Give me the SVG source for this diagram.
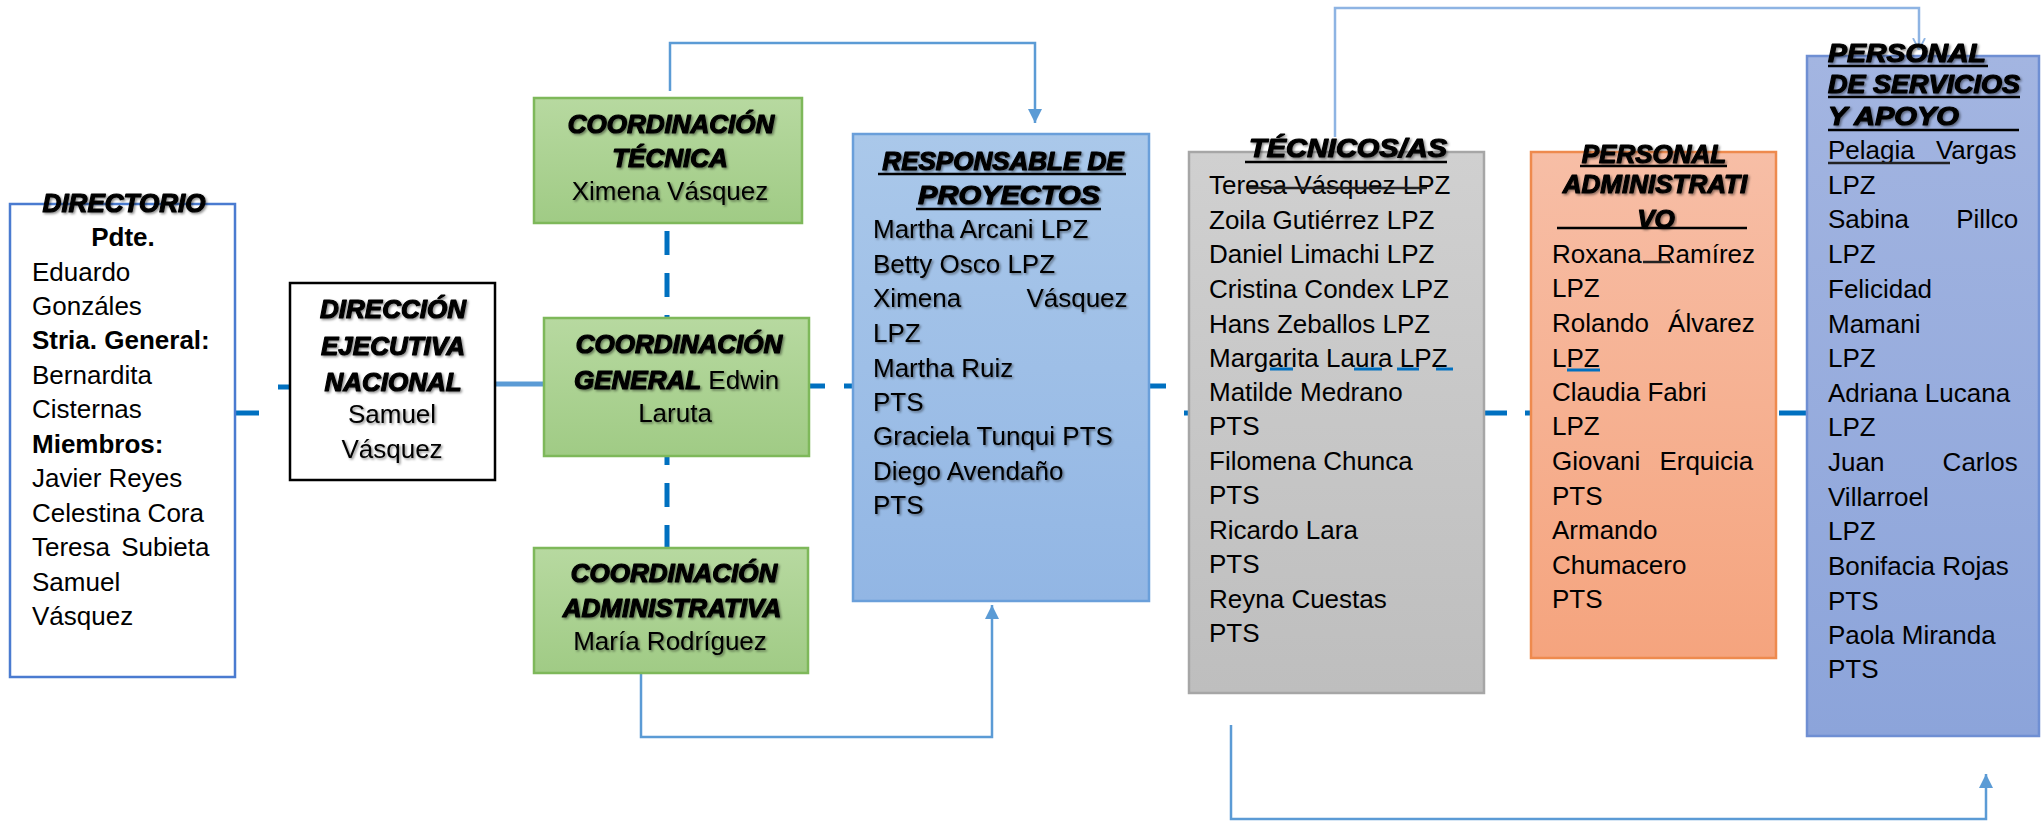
<svg xmlns="http://www.w3.org/2000/svg" width="2044" height="822" viewBox="0 0 2044 822">
<style>
text{font-family:"Liberation Sans",Arial,sans-serif;font-size:26px;fill:#000}
.t{font-weight:bold;font-style:italic;stroke:#000;stroke-width:1.2px;stroke-linejoin:round}
.b{font-weight:bold}
.c{text-anchor:middle}
.sh{filter:url(#ts)}
.ul{stroke:#000;stroke-width:2.5}
.dash{stroke:#0070C0;stroke-width:5;fill:none}
.solid{stroke:#5B9BD5;stroke-width:5;fill:none}
.conn{stroke:#5B9BD5;stroke-width:2.5;fill:none}
.conn2{stroke:#8EB4E3;stroke-width:2.5;fill:none}
.gram{stroke:#0070C0;stroke-width:3}
.mark{stroke:#222;stroke-width:2.5}
</style>
<defs>
<filter id="ts" x="-5%" y="-30%" width="110%" height="160%">
<feDropShadow dx="1.5" dy="1.5" stdDeviation="1" flood-color="#000" flood-opacity="0.45"/>
</filter>
<linearGradient id="gGreen" x1="0" y1="0" x2="0" y2="1"><stop offset="0" stop-color="#B7D9A0"/><stop offset="1" stop-color="#A0CB85"/></linearGradient>
<linearGradient id="gBlue" x1="0" y1="0" x2="0" y2="1"><stop offset="0" stop-color="#AAC8EA"/><stop offset="1" stop-color="#92B6E4"/></linearGradient>
<linearGradient id="gGray" x1="0" y1="0" x2="0" y2="1"><stop offset="0" stop-color="#D0D0D0"/><stop offset="1" stop-color="#BEBEBE"/></linearGradient>
<linearGradient id="gOrange" x1="0" y1="0" x2="0" y2="1"><stop offset="0" stop-color="#F7BEA6"/><stop offset="1" stop-color="#F5A47E"/></linearGradient>
<linearGradient id="gPeri" x1="0" y1="0" x2="0" y2="1"><stop offset="0" stop-color="#A3B5E1"/><stop offset="1" stop-color="#8CA4DA"/></linearGradient>
<marker id="arrF" viewBox="0 0 10 10" refX="10" refY="5" markerUnits="userSpaceOnUse" markerWidth="15" markerHeight="14" orient="auto">
<path d="M0,0 L10,5 L0,10 Z" fill="#5B9BD5"/>
</marker>
<marker id="arrO" viewBox="0 0 10 10" refX="10" refY="5" markerUnits="userSpaceOnUse" markerWidth="12" markerHeight="22" orient="auto">
<path d="M0,0 L10,5 L0,10" fill="none" stroke="#8EB4E3" stroke-width="1.5"/>
</marker>
</defs>

<g id="connectors">
<line class="dash" x1="667" y1="231" x2="667" y2="549" stroke-dasharray="24 18"/>
<line class="dash" x1="235" y1="413" x2="259" y2="413"/>
<line class="dash" x1="278" y1="387" x2="290" y2="387"/>
<line class="solid" x1="495" y1="384" x2="545" y2="384"/>
<line class="dash" x1="809" y1="386" x2="825" y2="386"/>
<line class="dash" x1="844" y1="386" x2="853" y2="386"/>
<line class="dash" x1="1149" y1="386" x2="1166" y2="386"/>
<line class="dash" x1="1184" y1="413" x2="1189" y2="413"/>
<line class="dash" x1="1484" y1="413" x2="1507" y2="413"/>
<line class="dash" x1="1525" y1="413" x2="1531" y2="413"/>
<line class="dash" x1="1779" y1="413" x2="1806" y2="413"/>
<path class="conn" d="M670,91 V43 H1035 V123" marker-end="url(#arrF)"/>
<path class="conn" d="M641,673 V737 H992 V605" marker-end="url(#arrF)"/>
<path class="conn2" d="M1335,137 V8 H1919 V50" marker-end="url(#arrO)"/>
<path class="conn" d="M1231,725 V819 H1986 V774" marker-end="url(#arrF)"/>
</g>

<g id="directorio">
<rect x="10" y="204" width="225" height="473" fill="#fff" stroke="#4A7BD0" stroke-width="2.5"/>
<text class="t c sh" x="124" y="212">DIRECTORIO</text>
<text class="b c" x="123" y="246">Pdte.</text>
<text x="32" y="280.5">Eduardo</text>
<text x="32" y="315">Gonzáles</text>
<text class="b" x="32" y="349">Stria. General:</text>
<text x="32" y="384">Bernardita</text>
<text x="32" y="418">Cisternas</text>
<text class="b" x="32" y="453">Miembros:</text>
<text x="32" y="487">Javier Reyes</text>
<text x="32" y="522">Celestina Cora</text>
<text x="32" y="556" word-spacing="4">Teresa Subieta</text>
<text x="32" y="590.5">Samuel</text>
<text x="32" y="625">Vásquez</text>
</g>

<g id="direccion">
<rect x="290" y="283" width="205" height="197" fill="#fff" stroke="#000" stroke-width="2.5"/>
<text class="t c sh" x="393" y="318">DIRECCIÓN</text>
<text class="t c sh" x="393" y="355">EJECUTIVA</text>
<text class="t c sh" x="393" y="391">NACIONAL</text>
<text class="c sh" x="392" y="423">Samuel</text>
<text class="c sh" x="392" y="458">Vásquez</text>
</g>

<g id="coord-tecnica">
<rect x="534" y="98" width="268" height="125" fill="url(#gGreen)" stroke="#7EB85A" stroke-width="2.5"/>
<text class="t c sh" x="671" y="133">COORDINACIÓN</text>
<text class="t c sh" x="670" y="167">TÉCNICA</text>
<text class="c sh" x="670" y="200">Ximena Vásquez</text>
</g>

<g id="coord-general">
<rect x="544" y="318" width="265" height="138" fill="url(#gGreen)" stroke="#7EB85A" stroke-width="2.5"/>
<text class="t c sh" x="679" y="353">COORDINACIÓN</text>
<text class="sh" x="574" y="389"><tspan class="t">GENERAL</tspan> Edwin</text>
<text class="c sh" x="675" y="422">Laruta</text>
</g>

<g id="coord-administrativa">
<rect x="534" y="548" width="274" height="125" fill="url(#gGreen)" stroke="#7EB85A" stroke-width="2.5"/>
<text class="t c sh" x="674" y="582">COORDINACIÓN</text>
<text class="t c sh" x="672" y="617">ADMINISTRATIVA</text>
<text class="c sh" x="670" y="650">María Rodríguez</text>
</g>

<g id="responsable">
<rect x="853" y="134" width="296" height="467" fill="url(#gBlue)" stroke="#6A9FDA" stroke-width="2.5"/>
<text class="t c sh" x="1003" y="170">RESPONSABLE DE</text>
<text class="t c sh" x="1009" y="204" textLength="182" lengthAdjust="spacingAndGlyphs">PROYECTOS</text>
<line class="ul" x1="878" y1="174" x2="1126" y2="174"/>
<line class="ul" x1="916" y1="209" x2="1101" y2="209"/>
<text class="sh" x="873" y="238">Martha Arcani LPZ</text>
<text class="sh" x="873" y="273">Betty Osco LPZ</text>
<text class="sh" x="873" y="307" word-spacing="58">Ximena Vásquez</text>
<text class="sh" x="873" y="342">LPZ</text>
<text class="sh" x="873" y="377">Martha Ruiz</text>
<text class="sh" x="873" y="411">PTS</text>
<text class="sh" x="873" y="445">Graciela Tunqui PTS</text>
<text class="sh" x="873" y="480">Diego Avendaño</text>
<text class="sh" x="873" y="514">PTS</text>
</g>

<g id="tecnicos">
<rect x="1189" y="152" width="295" height="541" fill="url(#gGray)" stroke="#A6A6A6" stroke-width="2.5"/>
<text class="t c sh" x="1348" y="157" textLength="198" lengthAdjust="spacingAndGlyphs">TÉCNICOS/AS</text>
<line class="ul" x1="1245" y1="162" x2="1447" y2="162"/>
<text x="1209" y="194">Teresa Vásquez LPZ</text>
<line class="mark" x1="1248" y1="188" x2="1427" y2="188"/>
<text x="1209" y="229">Zoila Gutiérrez LPZ</text>
<text x="1209" y="263">Daniel Limachi LPZ</text>
<text x="1209" y="298">Cristina Condex LPZ</text>
<text x="1209" y="333">Hans Zeballos LPZ</text>
<text x="1209" y="367">Margarita Laura LPZ</text>
<line class="gram" x1="1270" y1="369" x2="1293" y2="369"/>
<line class="gram" x1="1354" y1="369" x2="1382" y2="369"/>
<line class="gram" x1="1397" y1="369" x2="1419" y2="369"/>
<line class="gram" x1="1436" y1="369" x2="1453" y2="369"/>
<text x="1209" y="401">Matilde Medrano</text>
<text x="1209" y="435">PTS</text>
<text x="1209" y="470">Filomena Chunca</text>
<text x="1209" y="504">PTS</text>
<text x="1209" y="539">Ricardo Lara</text>
<text x="1209" y="573">PTS</text>
<text x="1209" y="608">Reyna Cuestas</text>
<text x="1209" y="642">PTS</text>
</g>

<g id="personal-administrativo">
<rect x="1531" y="152" width="245" height="506" fill="url(#gOrange)" stroke="#EE8A4E" stroke-width="2.5"/>
<text class="t c sh" x="1654" y="163">PERSONAL</text>
<line class="ul" x1="1580" y1="166" x2="1727" y2="166"/>
<text class="t c sh" x="1655" y="193">ADMINISTRATI</text>
<text class="t c sh" x="1656" y="228">VO</text>
<line class="ul" x1="1557" y1="228" x2="1747" y2="228"/>
<text x="1552" y="263" word-spacing="8">Roxana Ramírez</text>
<line class="mark" x1="1643" y1="262" x2="1670" y2="262"/>
<text x="1552" y="297">LPZ</text>
<text x="1552" y="332" word-spacing="12">Rolando Álvarez</text>
<text x="1552" y="367">LPZ</text>
<line class="gram" x1="1567" y1="370" x2="1600" y2="370"/>
<text x="1552" y="401">Claudia Fabri</text>
<text x="1552" y="435">LPZ</text>
<text x="1552" y="470" word-spacing="12">Giovani Erquicia</text>
<text x="1552" y="505">PTS</text>
<text x="1552" y="539">Armando</text>
<text x="1552" y="574">Chumacero</text>
<text x="1552" y="608">PTS</text>
</g>

<g id="personal-servicios">
<rect x="1807" y="56" width="232" height="680" fill="url(#gPeri)" stroke="#6F8FD3" stroke-width="2.5"/>
<text class="t sh" x="1828" y="62" textLength="158" lengthAdjust="spacingAndGlyphs">PERSONAL</text>
<line class="ul" x1="1828" y1="66" x2="1988" y2="66"/>
<text class="t sh" x="1828" y="93" textLength="192" lengthAdjust="spacingAndGlyphs">DE SERVICIOS</text>
<line class="ul" x1="1828" y1="97" x2="2020" y2="97"/>
<text class="t sh" x="1828" y="125" textLength="131" lengthAdjust="spacingAndGlyphs">Y APOYO</text>
<line class="ul" x1="1828" y1="130" x2="2019" y2="130"/>
<text x="1828" y="159" word-spacing="14">Pelagia Vargas</text>
<line class="mark" x1="1828" y1="163" x2="1950" y2="163"/>
<text x="1828" y="194">LPZ</text>
<text x="1828" y="228" word-spacing="40">Sabina Pillco</text>
<text x="1828" y="263">LPZ</text>
<text x="1828" y="298">Felicidad</text>
<text x="1828" y="333">Mamani</text>
<text x="1828" y="367">LPZ</text>
<text x="1828" y="402">Adriana Lucana</text>
<text x="1828" y="436">LPZ</text>
<text x="1828" y="471" word-spacing="51">Juan Carlos</text>
<text x="1828" y="506">Villarroel</text>
<text x="1828" y="540">LPZ</text>
<text x="1828" y="575">Bonifacia Rojas</text>
<text x="1828" y="610">PTS</text>
<text x="1828" y="644">Paola Miranda</text>
<text x="1828" y="678">PTS</text>
</g>
</svg>
